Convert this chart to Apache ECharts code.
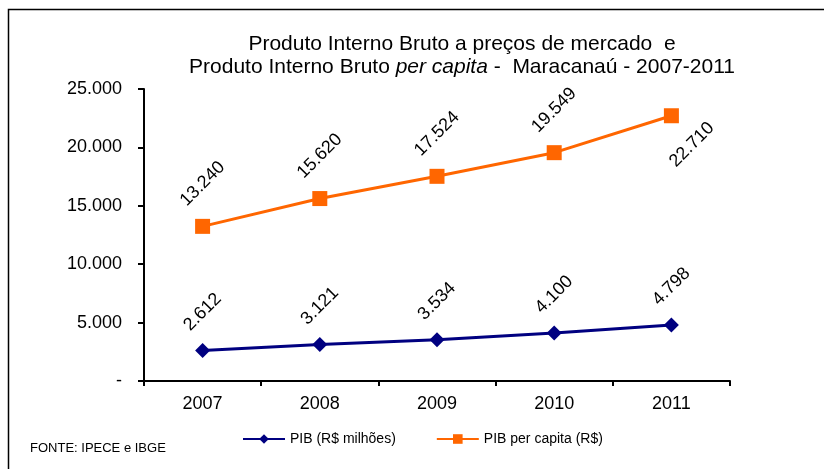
<!DOCTYPE html>
<html>
<head>
<meta charset="utf-8">
<script src="https://cdn.jsdelivr.net/npm/echarts@6/dist/echarts.min.js"></script>
<style>
  html, body { margin: 0; padding: 0; background: #fff; }
  #grafica { width: 824px; height: 469px; }
</style>
</head>
<body>
<div id="grafica"></div>
<script>
// dados
var anos = ['2007', '2008', '2009', '2010', '2011'];
var pibMilhoes = [2612, 3121, 3534, 4100, 4798];
var pibPerCapita = [13240, 15620, 17524, 19549, 22710];
var nomeSerie1 = 'PIB (R$ milhões)';
var nomeSerie2 = 'PIB per capita (R$)';

var fonte = '"Liberation Sans", Arial, sans-serif';

// 25000 -> 25.000, 0 -> -
function formatoBR(v) {
    if (v === 0) return '-';
    return String(v).replace(/\B(?=(\d{3})+(?!\d))/g, '.');
}

var grafico = echarts.init(document.getElementById('grafica'));

var dadosPerCapita = pibPerCapita.map(function (v, i) {
    if (i == pibPerCapita.length - 1) {
        // ultimo rotulo fica abaixo e a direita do ponto
        return { value: v, label: { position: 'inside', distance: 0, offset: [-6, 35] } };
    }
    return v;
});

var rotulo = {
    show: true,
    position: 'top',
    rotate: 45,
    align: 'center',
    verticalAlign: 'middle',
    fontSize: 18,
    color: '#000',
    fontFamily: fonte,
    formatter: function (p) { return formatoBR(p.value); }
};

var option = {
    animation: false,
    textStyle: { fontFamily: fonte },
    title: {
        left: 457,
        top: 28,
        textAlign: 'center',
        text: '{a|Produto Interno Bruto a preços de mercado  e}\n{a|Produto Interno Bruto }{i|per capita}{a| -  Maracanaú - 2007-2011}',
        textStyle: {
            fontWeight: 'normal',
            rich: {
                a: { fontFamily: fonte, fontSize: 21, fontWeight: 'normal', color: '#000', lineHeight: 23 },
                i: { fontFamily: fonte, fontSize: 21, fontWeight: 'normal', color: '#000', fontStyle: 'italic', lineHeight: 23 }
            }
        }
    },
    graphic: [
        {
            type: 'rect',
            shape: { x: 8.5, y: 9.5, width: 900, height: 600 },
            style: { fill: 'none', stroke: '#000', lineWidth: 1.5 },
            silent: true
        },
        {
            type: 'text',
            left: 30,
            top: 442,
            style: { text: 'FONTE: IPECE e IBGE', font: '13px ' + fonte, fill: '#000' }
        }
    ],
    legend: {
        left: 237,
        top: 427,
        itemWidth: 42,
        itemHeight: 12,
        itemGap: 40,
        textStyle: { fontSize: 14, color: '#000', fontFamily: fonte },
        data: [nomeSerie1, nomeSerie2]
    },
    grid: { left: 144, right: 94, top: 89, bottom: 88 },
    xAxis: {
        type: 'category',
        data: anos,
        boundaryGap: true,
        axisLine: { lineStyle: { color: '#000', width: 2 } },
        axisTick: { show: true, length: 5, lineStyle: { color: '#000', width: 2 } },
        axisLabel: { color: '#000', fontSize: 18, margin: 14, fontFamily: fonte }
    },
    yAxis: {
        type: 'value',
        min: 0,
        max: 25000,
        interval: 5000,
        splitLine: { show: false },
        axisLine: { show: true, lineStyle: { color: '#000', width: 2 } },
        axisTick: { show: true, length: 6, lineStyle: { color: '#000', width: 2 } },
        axisLabel: { color: '#000', fontSize: 18, margin: 22, fontFamily: fonte, formatter: formatoBR }
    },
    series: [
        {
            name: nomeSerie1,
            type: 'line',
            data: pibMilhoes,
            symbol: 'diamond',
            symbolSize: 15,
            itemStyle: { color: '#000080' },
            lineStyle: { color: '#000080', width: 3 },
            label: Object.assign({}, rotulo, { distance: 31 })
        },
        {
            name: nomeSerie2,
            type: 'line',
            data: dadosPerCapita,
            symbol: 'rect',
            symbolSize: 15,
            itemStyle: { color: '#FF6600' },
            lineStyle: { color: '#FF6600', width: 3 },
            label: Object.assign({}, rotulo, { distance: 35 })
        }
    ]
};

grafico.setOption(option);
</script>
</body>
</html>
